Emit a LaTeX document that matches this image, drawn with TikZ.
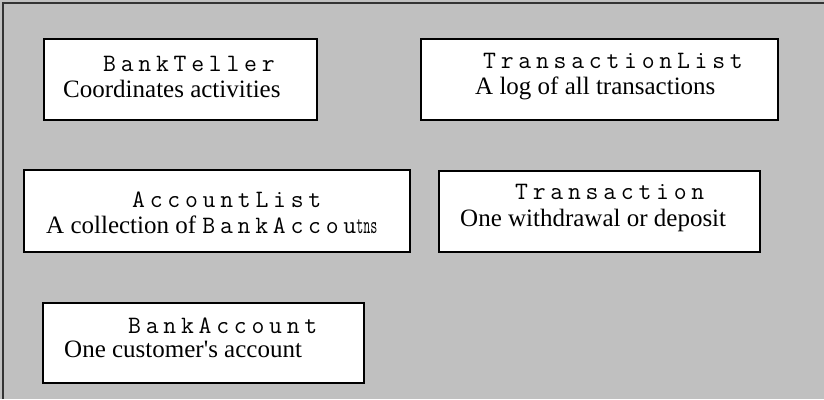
\documentclass[tikz,border=0pt]{standalone}
\usepackage{graphicx}
\usepackage{fontspec}
\setmainfont{Liberation Serif}
\newfontfamily\monosp[LetterSpace=19]{Latin Modern Mono}
\newfontfamily\monotight{Latin Modern Mono}
\definecolor{bg}{HTML}{C0C0C0}
\definecolor{frame}{HTML}{333333}
\begin{document}
\begin{tikzpicture}[x=1pt,y=-1pt,
  box/.style={draw=black,line width=2pt,fill=white,rectangle,inner sep=0pt,anchor=north west},
  cname/.style={anchor=base west,inner sep=0pt,font=\monosp\fontsize{25}{30}\selectfont},
  cdesc/.style={anchor=base west,inner sep=0pt,font=\fontsize{25}{30}\selectfont}]
\useasboundingbox (0,0) rectangle (824,399);
\fill[bg] (0,0) rectangle (824,399);
\draw[frame,line width=1.5pt] (3,399) -- (3,3) -- (824,3);
% boxes
\node[box,minimum width=273pt,minimum height=81pt] (bt) at (43,38) {};
\node[box,minimum width=357pt,minimum height=81pt] (tl) at (420,38) {};
\node[box,minimum width=386pt,minimum height=82pt] (al) at (23,169) {};
\node[box,minimum width=321pt,minimum height=81pt] (tr) at (438,170) {};
\node[box,minimum width=321pt,minimum height=80pt] (ba) at (42,302) {};
% texts
\node[cname] (btn) at (103,71) {BankTeller};
\node[cdesc] (btd) at (63,97) {Coordinates activities};
\node[cname] (tln) at (483,68) {TransactionList};
\node[cdesc] (tld) at (475,94) {A log of all transactions};
\node[cname] (aln) at (132,207) {AccountList};
\node[cdesc] (ald) at (46,233) {A collection of {\monosp\fontsize{25}{30}\selectfont BankAccou}{\monotight\fontsize{25}{30}\selectfont\scalebox{0.55}[1]{tns}}};
\node[cname] (trn) at (515,199) {Transaction};
\node[cdesc] (trd) at (460,226) {One withdrawal or deposit};
\node[cname] (ban) at (128,333) {BankAccount};
\node[cdesc] (bad) at (64,357) {One customer\textquotesingle s account};
\end{tikzpicture}
\end{document}
